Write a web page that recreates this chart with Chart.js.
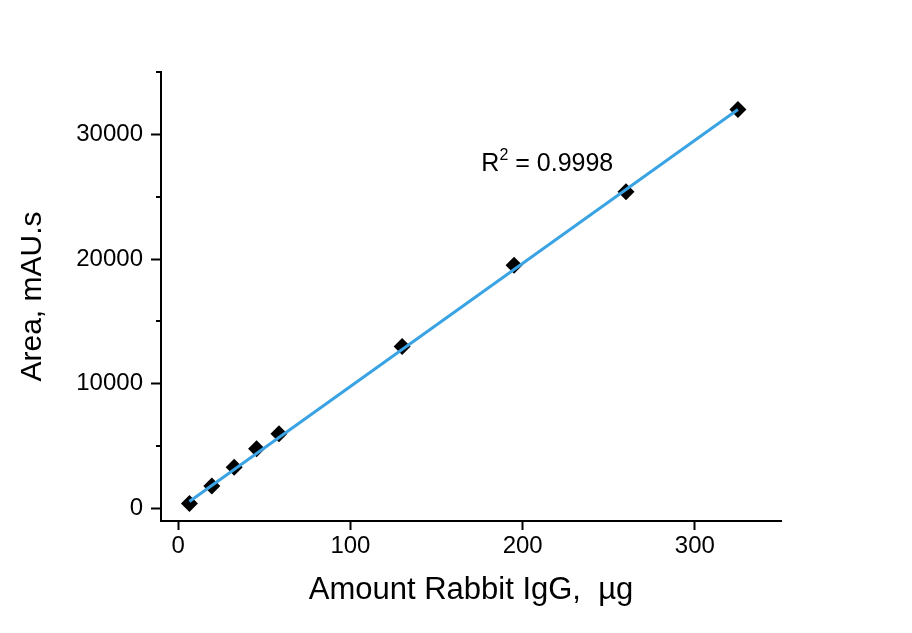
<!DOCTYPE html>
<html>
<head>
<meta charset="utf-8">
<script src="https://cdn.jsdelivr.net/npm/chart.js@4/dist/chart.umd.min.js"></script>
<style>
  html, body { margin: 0; padding: 0; background: #ffffff; }
  canvas { display: block; }
</style>
</head>
<body>
<canvas id="c" width="912" height="633"></canvas>
<script>
// ---- data ----
const amountX = [6.5, 19.5, 32.5, 45.5, 58.5, 130, 195, 260, 325];
const areaY = [400, 1800, 3300, 4800, 6000, 13000, 19500, 25400, 32000];
const fitX = [6.5, 325];
const fitY = [560, 32000];
const xTicks = [0, 100, 200, 300];
const yTicks = [0, 10000, 20000, 30000];
const yMinorTicks = [5000, 15000, 25000, 35000];
const annotText = ['R', '2', ' = 0.9998'];
const annotPos = [176, 27100];

const FONT = '"Liberation Sans", Arial, Helvetica, sans-serif';

const scatterData = amountX.map((x, i) => ({ x: x, y: areaY[i] }));
const fitData = fitX.map((x, i) => ({ x: x, y: fitY[i] }));

const extrasPlugin = {
  id: 'extras',
  afterDraw(chart) {
    const ctx = chart.ctx;
    const xs = chart.scales.x, ys = chart.scales.y;
    ctx.save();
    ctx.strokeStyle = '#000';
    ctx.lineWidth = 2;
    const left = chart.chartArea.left;
    yMinorTicks.forEach(v => {
      const py = Math.round(ys.getPixelForValue(v));
      ctx.beginPath();
      ctx.moveTo(left - 5, py);
      ctx.lineTo(left, py);
      ctx.stroke();
    });
    ctx.fillStyle = '#000';
    ctx.textBaseline = 'alphabetic';
    ctx.textAlign = 'left';
    let px = xs.getPixelForValue(annotPos[0]);
    const py = ys.getPixelForValue(annotPos[1]);
    ctx.font = '25px ' + FONT;
    ctx.fillText(annotText[0], px, py);
    px += ctx.measureText(annotText[0]).width;
    ctx.font = '16px ' + FONT;
    ctx.fillText(annotText[1], px, py - 11);
    px += ctx.measureText(annotText[1]).width;
    ctx.font = '25px ' + FONT;
    ctx.fillText(annotText[2], px, py);
    ctx.restore();
  }
};

new Chart(document.getElementById('c'), {
  type: 'scatter',
  data: {
    datasets: [
      {
        type: 'line',
        label: 'fit',
        data: fitData,
        borderColor: '#3aa3e4',
        borderWidth: 3,
        pointRadius: 0,
        fill: false,
        order: 0
      },
      {
        label: 'Rabbit IgG',
        data: scatterData,
        pointStyle: 'rectRot',
        pointRadius: 8.5,
        pointHoverRadius: 8.5,
        backgroundColor: '#000',
        borderColor: '#000',
        borderWidth: 0,
        order: 1
      }
    ]
  },
  options: {
    responsive: false,
    animation: false,
    devicePixelRatio: 1,
    layout: { padding: { left: 0, top: 72, right: 131, bottom: 0 } },
    plugins: {
      legend: { display: false },
      tooltip: { enabled: false }
    },
    scales: {
      x: {
        type: 'linear',
        min: -10,
        max: 350,
        afterBuildTicks: s => { s.ticks = xTicks.map(v => ({ value: v })); },
        afterFit: s => { s.height = 112; },
        grid: { display: true, drawOnChartArea: false, drawTicks: true, tickLength: 9, tickColor: '#000', tickWidth: 2 },
        border: { display: true, color: '#000', width: 2 },
        ticks: { color: '#000', font: { family: FONT, size: 24 }, padding: 2, maxRotation: 0, callback: v => String(v) },
        title: { display: true, text: 'Amount Rabbit IgG,  µg', color: '#000', font: { family: FONT, size: 31, lineHeight: 1.2 }, padding: { top: 0, bottom: 24 } }
      },
      y: {
        type: 'linear',
        min: -1000,
        max: 35000,
        afterBuildTicks: s => { s.ticks = yTicks.map(v => ({ value: v })); },
        afterFit: s => { s.width = 161; },
        grid: { display: true, drawOnChartArea: false, drawTicks: true, tickLength: 10, tickColor: '#000', tickWidth: 2 },
        border: { display: true, color: '#000', width: 2 },
        ticks: { color: '#000', font: { family: FONT, size: 24 }, padding: 8, callback: v => String(v) },
        title: { display: true, text: 'Area, mAU.s', color: '#000', font: { family: FONT, size: 30, lineHeight: 1.2 }, padding: { top: 15, bottom: 0 } }
      }
    }
  },
  plugins: [extrasPlugin]
});
</script>
</body>
</html>
